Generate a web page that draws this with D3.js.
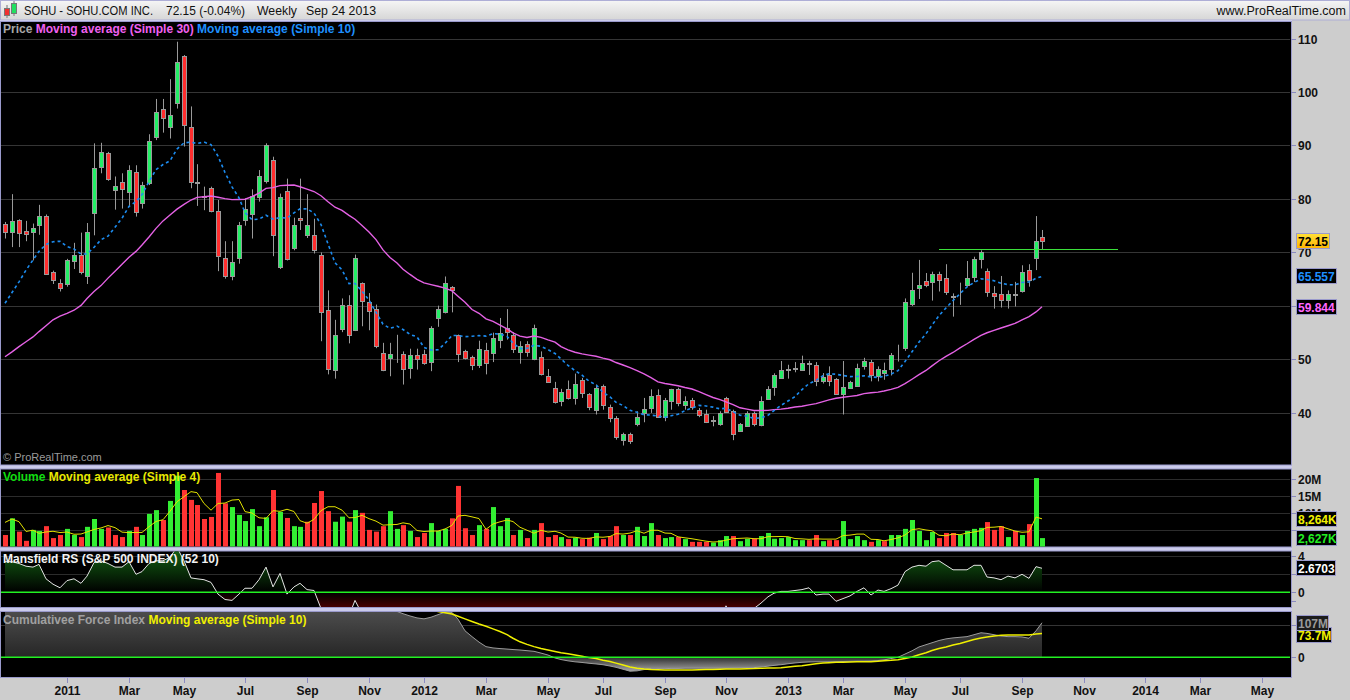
<!DOCTYPE html>
<html><head><meta charset="utf-8">
<script src="https://cdn.jsdelivr.net/npm/d3@7"></script>
<style>
body{margin:0;background:#cdcdcd;overflow:hidden}
svg{display:block}
text{font-family:"Liberation Sans",Arial,sans-serif}
</style>
</head><body><svg id="c" width="1350" height="700"></svg>
<script>
// ---------------- DATA ----------------
const firstBar = Date.UTC(2010,10,1), lastBarEnd = Date.UTC(2013,8,24);
const opens = [75.4,73.85,76.0,74.0,73.85,75.2,76.9,66.4,64.3,64.05, 68.4,69.45,65.6,77.3,85.9,88.5,81.7,83.1,81.35,85.0, 79.2,83.0,91.6,96.9,93.5,97.9,106.7,93.5,83.1,80.5, 82.0,77.8,69.0,65.6,69.0,76.0,77.1,80.3,83.4,87.3, 67.3,81.5,70.8,76.35,73.2,73.2,69.5,59.25,48.0,55.6, 60.1,55.5,64.3,60.7,59.4,51.2,50.3,52.5,51.0,48.4, 50.9,51.1,49.5,57.75,58.9,63.55,54.6,51.6,50.45,49.0, 51.85,51.2,53.6,55.8,54.6,51.4,52.8,50.1,50.45,46.85, 44.7,42.2,44.55,42.8,46.2,43.55,40.6,45.0,41.1,39.05, 35.0,36.1,37.95,40.0,40.9,43.4,39.2,42.2,44.5,41.4, 42.5,40.45,39.8,38.75,37.95,42.7,40.3,36.6,37.6,40.0, 37.7,42.6,44.8,46.5,48.0,48.4,48.0,49.35,48.95,45.9, 47.15,46.3,43.55,44.6,45.0,48.7,49.5,46.85,47.4,48.3, 52.4,52.05,60.45,63.3,64.6,64.5,65.9,65.15,61.8,64.0, 64.0,65.5,68.8,66.5,62.35,62.2,61.2,62.2,62.85,66.8, 69.0,72.8];
const highs = [75.7,80.9,76.2,75.9,75.4,78.9,77.1,66.6,65.0,68.8, 71.8,73.7,75.5,90.4,90.5,88.8,84.2,84.8,86.3,86.3, 83.2,92.1,98.7,98.7,102.4,109.4,106.9,97.3,86.5,82.3, 82.3,79.8,72.1,72.1,75.7,80.1,81.8,85.4,90.4,87.9, 81.0,83.8,76.5,83.8,80.9,76.3,70.0,62.9,57.4,61.4, 62.0,69.6,64.4,62.4,60.25,53.1,53.1,54.6,51.5,52.0, 52.0,51.8,56.2,60.05,65.5,63.7,54.65,51.8,50.7,53.5, 53.1,55.0,57.75,59.4,55.1,53.4,53.4,56.5,51.5,48.2, 45.8,44.5,46.05,47.35,46.55,43.7,45.3,45.3,41.55,39.4, 36.3,36.3,40.3,42.8,44.4,44.4,42.8,44.5,44.7,43.1, 42.8,40.9,40.6,39.4,40.3,43.0,40.6,38.1,40.3,40.25, 43.1,45.0,47.4,49.7,49.0,49.5,50.7,49.75,49.5,47.45, 48.7,46.5,49.7,46.0,49.2,50.3,49.9,48.7,49.4,51.2, 52.75,61.4,66.2,68.6,66.15,66.4,66.4,67.8,62.35,64.35, 68.4,69.2,70.4,67.0,63.7,65.6,62.9,64.5,67.6,67.8, 76.8,74.2];
const lows = [72.6,71.0,71.0,72.1,68.5,73.3,65.8,64.1,62.7,63.6, 66.9,65.9,64.1,73.2,84.8,83.4,78.0,78.2,78.5,76.7, 78.2,82.6,91.0,92.4,91.3,96.9,89.8,82.0,78.7,77.9, 77.5,66.5,65.1,64.8,67.9,75.0,72.6,79.5,82.9,69.3, 66.9,68.5,70.4,74.2,72.7,69.8,53.4,47.2,46.4,55.1, 53.0,55.3,56.2,55.45,52.1,47.8,46.85,49.35,45.3,46.4, 48.1,49.0,47.8,56.1,58.6,58.8,49.5,50.0,48.0,48.4, 47.2,49.5,52.1,53.7,51.2,49.2,50.5,49.85,47.0,45.6, 41.75,41.25,42.5,41.55,42.8,40.5,39.7,40.6,38.25,35.0, 33.9,34.2,37.5,38.25,40.0,39.05,38.45,40.6,41.25,40.6, 40.6,39.2,38.1,37.5,37.6,40.0,34.9,36.45,37.4,37.5, 37.5,42.5,43.2,46.4,46.4,47.6,48.0,47.1,45.0,45.5, 45.0,43.4,39.7,44.5,44.85,48.1,45.9,45.9,46.2,47.0, 49.6,51.6,60.0,61.3,63.5,61.0,62.7,62.05,58.0,60.2, 63.6,64.5,67.0,61.7,59.5,59.7,59.5,59.9,62.5,63.6, 66.7,70.6];
const closes = [73.85,75.8,73.7,73.5,74.5,76.8,65.9,64.9,63.3,68.6, 69.6,66.3,73.8,85.8,88.7,83.65,82.4,81.8,85.4,77.6, 82.6,90.8,96.2,95.2,95.7,105.6,93.9,83.2,82.9,80.3, 77.8,69.3,65.6,68.3,75.2,78.1,80.6,84.2,90.1,73.2, 80.3,68.8,75.1,76.0,75.1,70.4,58.9,48.2,54.6,60.1, 54.6,69.0,60.9,59.0,52.5,48.1,51.0,52.5,48.2,50.9, 50.1,49.35,55.9,59.4,64.3,63.05,51.0,50.3,49.0,52.0, 49.35,54.0,55.0,55.1,52.0,52.5,51.4,55.9,47.3,45.8, 42.05,43.9,42.8,45.4,43.7,41.1,44.7,41.55,39.05,35.5, 36.1,34.8,39.25,40.75,43.1,39.25,42.4,44.4,41.9,42.3, 41.05,39.6,38.3,38.45,40.0,40.1,36.1,37.95,40.0,37.95, 42.3,44.5,47.1,48.0,48.2,48.3,49.3,49.2,45.9,46.8, 45.9,43.6,44.85,45.8,48.4,49.75,47.0,48.2,48.1,50.9, 52.4,60.7,63.0,63.9,64.0,65.9,64.8,62.55,61.7,64.0, 65.15,68.7,70.0,62.55,61.9,61.05,62.2,62.1,66.3,64.8, 72.1,72.15];
// moving average values before enough history
const sma30Early = [50.5,51.4,52.4,53.3,54.2,55.2,56.3,57.4,58.1,58.6,59.2,60.1,61.4,62.7,63.8,65.2,66.5,67.8,69.1,70.2,71.4,72.9,74.5,75.9,77.0,78.1,79.0,79.8,80.3];
const sma10Early = [60.5,62.5,64.5,66.7,68.6,70.2,71.5,72.0,72.1];
const resistance = 70.56;
// volume in millions
const volumes = [3.6,8.5,4.6,1.9,5.1,4.8,6.2,2.7,3.6,5.4, 3.6,3.0,6.0,8.3,5.4,5.8,3.6,3.0,4.8,6.0, 3.6,9.8,10.9,8.0,13.6,21.0,16.8,13.9,12.4,8.3, 8.9,21.8,12.9,11.8,9.5,7.7,11.2,6.2,8.8,16.8, 10.4,8.6,6.2,6.0,7.5,13.0,16.5,10.6,7.5,9.0, 7.5,10.9,10.1,5.1,4.6,6.2,10.6,5.4,6.5,4.8, 3.0,4.2,7.1,4.8,5.4,8.5,18.0,5.6,3.6,6.5, 5.4,11.8,6.2,8.6,3.6,5.1,2.7,5.1,7.1,3.0, 3.6,3.0,2.4,2.8,2.4,2.8,4.2,2.4,3.3,6.2, 3.6,3.6,6.0,3.3,7.1,3.6,2.7,3.0,3.0,2.4, 1.6,1.6,1.6,1.4,2.1,3.3,3.3,1.8,2.5,2.5, 3.3,4.2,2.5,2.7,3.0,2.1,2.1,2.1,3.6,1.8, 2.1,2.1,7.7,2.4,3.3,2.1,1.6,2.1,1.8,3.6, 3.6,5.4,8.0,4.8,2.1,4.5,2.7,4.2,4.2,3.6, 4.8,5.4,5.7,7.4,5.1,6.2,3.0,4.8,3.6,6.8, 20.3,2.7];
const volMaEarly = [7.3,8.3,7.5];
const mansfield = [3.4,3.4,3.2,2.9,2.8,3.1,1.5,0.9,0.5,1.3, 1.5,1.0,1.8,3.3,3.5,3.2,2.8,2.8,3.4,2.0, 2.3,3.2,3.5,3.5,3.9,5.0,3.5,1.6,1.5,1.4, 1.1,-0.2,-0.8,-0.9,-0.2,0.45,0.45,1.4,2.8,0.6, 2.1,-0.2,0.6,1.0,0.3,0.2,-1.8,-2.6,-2.8,-2.7, -2.6,-0.9,-2.4,-2.6,-2.8,-3.0,-2.9,-2.8,-3.0,-2.9, -2.8,-2.7,-2.5,-2.3,-1.7,-2.2,-2.8,-2.9,-3.0,-3.0, -2.9,-2.8,-2.9,-3.0,-3.0,-2.9,-3.0,-3.1,-3.1,-3.2, -3.3,-3.2,-3.3,-3.2,-3.3,-3.4,-3.3,-3.4,-3.5,-3.6, -3.5,-3.5,-3.3,-3.2,-3.0,-3.1,-3.0,-2.9,-3.0,-3.0, -3.1,-3.1,-3.2,-3.2,-3.0,-1.5,-2.8,-2.6,-2.2,-1.8, -1.2,-0.5,-0.1,0.1,0.1,0.2,0.3,0.5,-0.3,-0.2, -0.2,-1.0,-0.7,-0.4,0.1,0.5,-0.3,0.25,0.1,0.4, 0.8,2.3,2.8,3.0,2.9,3.4,3.5,3.0,2.5,2.5, 2.5,3.0,3.0,1.7,1.6,1.4,1.8,1.6,2.0,1.55, 2.85,2.67];
// cumulative force index, millions
const cfi = [175,178,176,174,176,180,170,166,162,168, 170,166,172,182,188,184,182,181,185,178, 182,190,196,194,196,205,194,186,184,182, 178,168,163,166,172,176,179,183,188,172, 180,168,172,175,173,168,160,150,156,160, 155,166,160,158,152,147,149,142,135,128, 122,119,124,132,140,139,118,82,64,47, 33,29,27,25.5,24,22.6,20.5,18.5,13,7, -2,-7,-11,-14,-16,-18.5,-20.5,-23,-27,-31, -37,-43,-42,-38,-36,-35,-35,-34.5,-34.5,-34, -34,-34,-34,-34,-34,-34,-33.5,-33,-33,-32, -30,-27.5,-25,-23,-20,-17.5,-15.5,-14.5,-14,-14, -13.8,-13.6,-13,-12.5,-12,-11.8,-11.5,-10,-8,-4, 0,10,20,32,39,45,52,57,60,62, 64,70,76,74,70,66,64,64,63,59, 82,107];
const cfiMa = [176,176,177,177,177,178,177,176,175,175, 174,174,174,175,176,177,178,179,180,181, 181,182,183,184,185,186,187,187,187,187, 186,186,185,184,183,182,181,180,179,178, 178,177,177,176,175,174,172,170,168,166, 164,162,161,160,159,158,157,156,155,153, 151,150,146,142,138,134,127,119,111,103, 96,88,80,70,59,48,40,33,27,22.6, 18,14,11,7,3,-1,-4,-9,-13,-18, -24,-30,-34,-36.5,-38,-38.5,-39,-39,-39,-39, -39,-38.5,-38,-37.5,-37,-36.5,-36,-36,-35.5,-35, -34,-33.5,-33,-32,-30,-28,-26,-23,-20,-18, -16.5,-15.5,-15,-14.5,-14,-14,-13.6,-12.5,-11,-9.5, -7.5,-4,1,8,14,21,27,32,38,43, 49,55,60,63,66,68,69,69,69,69, 72,73.7];
// last-value readouts shown on the right axis
const readoutLabels = ["72.15","65.557","59.844","8,264K","2,627K","2.6703","73.7M","107M"];
const readoutValues = [72.15,65.557,59.844,8.264,2.627,2.6703,73.7,107];
const priceTicks = [40,50,60,70,80,90,100,110];
const priceTickLabels = ["40","50","","70","80","90","100","110"];
const volTicks = [5,10,15,20];
const volTickLabels = ["","10M","15M","20M"];
const msTicks = [-1,0,2,4];
const msTickLabels = ["","0","","4"];
const cfiTicks = [0,100];
const cfiTickLabels = ["0",""];

// ---------------- SETUP ----------------
const dates = d3.utcMonday.range(new Date(firstBar), new Date(lastBarEnd));
const n = dates.length;
const svg = d3.select("#c");
const defs = svg.append("defs");
const RIGHT = 1291;
const P = {price:[21,465.5], vol:[468.5,547.5], ms:[550.5,608], cfi:[611,678]};

const x = d3.scaleUtc().domain([Date.UTC(2011,0,1), Date.UTC(2014,4,1)]).range([64.9,1258.3]);
const yP = d3.scaleLinear().domain([40,110]).range([412.9,38.5]);
const yV = d3.scaleLinear().domain([0,20]).range([547.3,479.1]);
const yM = d3.scaleLinear().domain([0,4]).range([592.3,556.3]);
const yC = d3.scaleLinear().domain([0,100]).range([657.3,625]);
const X = i => Math.round(x(dates[i]));

function sma(arr, k, early){
  return arr.map((v,i)=> i < k-1 ? early[i] : d3.mean(arr.slice(i-k+1,i+1)));
}
const sma30 = sma(closes,30,sma30Early);
const sma10 = sma(closes,10,sma10Early);
const volMa = sma(volumes,4,volMaEarly);

function grad(id, stops, y1, y2){
  const g = defs.append("linearGradient").attr("id",id).attr("gradientUnits","userSpaceOnUse")
    .attr("x1",0).attr("x2",0).attr("y1",y1).attr("y2",y2);
  stops.forEach(s=>g.append("stop").attr("offset",s[0]).attr("stop-color",s[1]));
}
function clip(id, y0, y1){
  defs.append("clipPath").attr("id",id).append("rect").attr("x",1).attr("y",y0+1).attr("width",RIGHT-2).attr("height",y1-y0-2);
}
grad("tg",[[0,"#f6f6f6"],[1,"#d6d6d6"]],0,20);
grad("yb",[[0,"#ffe23a"],[1,"#ffb300"]],233,249);
grad("msg",[[0,"#125e12"],[(592.3-551)/(608-551),"#000000"],[1,"#4a0000"]],551,608);
grad("cfg",[[0,"#4c4c4c"],[(657.3-612)/(678-612),"#262626"],[(657.3-612)/(678-612)+0.001,"#2e2e2e"],[1,"#e0e0e0"]],612,678);
Object.entries(P).forEach(([k,v])=>clip("cl_"+k,v[0],v[1]));

// backgrounds
svg.append("rect").attr("width",1350).attr("height",700).attr("fill","#cdcdcd");
svg.append("rect").attr("x",0).attr("y",0).attr("width",1350).attr("height",20).attr("fill","url(#tg)");
svg.append("rect").attr("x",0.5).attr("y",0.5).attr("width",1349).attr("height",19.5).attr("fill","none").attr("stroke","#aeaed6");
svg.append("rect").attr("x",0).attr("y",20).attr("width",RIGHT+1).attr("height",658).attr("fill","#cbcbeb");
Object.values(P).forEach(v=>{
  svg.append("rect").attr("x",0.5).attr("y",v[0]+0.5).attr("width",RIGHT).attr("height",v[1]-v[0]-1)
    .attr("fill","#000").attr("stroke","#9a9acc");
});

// title bar
const ic = svg.append("g");
ic.append("line").attr("x1",7).attr("x2",7).attr("y1",5).attr("y2",18).attr("stroke","#777");
ic.append("rect").attr("x",4.5).attr("y",8.5).attr("width",5).attr("height",7).attr("fill","#f03030").attr("stroke","#777");
ic.append("line").attr("x1",14).attr("x2",14).attr("y1",1).attr("y2",16).attr("stroke","#777");
ic.append("rect").attr("x",11.5).attr("y",3.5).attr("width",5).attr("height",10).attr("fill","#22e060").attr("stroke","#777");
const tt = [["SOHU - SOHU.COM INC.",24,129],["72.15 (-0.04%)",166,79],["Weekly",257,40],["Sep 24 2013",306,70]];
tt.forEach(t=>svg.append("text").attr("x",t[1]).attr("y",15).attr("font-size","12.5px").attr("fill","#111")
  .attr("textLength",t[2]).attr("lengthAdjust","spacingAndGlyphs").text(t[0]));
svg.append("text").attr("x",1346).attr("y",15).attr("text-anchor","end").attr("font-size","12.5px").attr("fill","#111").text("www.ProRealTime.com");

// ---------------- PRICE PANEL ----------------
const gp = svg.append("g").attr("clip-path","url(#cl_price)");
gp.selectAll("line.grid").data(priceTicks).join("line").attr("x1",0).attr("x2",RIGHT)
  .attr("y1",d=>Math.round(yP(d))+0.5).attr("y2",d=>Math.round(yP(d))+0.5).attr("stroke","#353535");
const cg = gp.append("g");
d3.range(n).forEach(i=>{
  const xi = X(i)+0.5;
  cg.append("line").attr("x1",xi).attr("x2",xi).attr("y1",yP(highs[i])).attr("y2",yP(lows[i])).attr("stroke","#9a9a9a");
  const o=opens[i], c=closes[i];
  const top = Math.round(yP(Math.max(o,c))), bot = Math.round(yP(Math.min(o,c)));
  const fill = c>o ? "#24ee66" : (c<o ? "#ff2e2e" : "#9a9a9a");
  cg.append("rect").attr("x",xi-2).attr("y",top+0.5).attr("width",4).attr("height",Math.max(0,bot-top))
    .attr("fill",fill).attr("stroke","#9a9a9a");
});
gp.append("path").datum(sma30).attr("fill","none").attr("stroke","#e461e4").attr("stroke-width",1.4)
  .attr("d",d3.line().x((d,i)=>X(i)).y(d=>yP(d)));
gp.append("path").datum(sma10).attr("fill","none").attr("stroke","#1c8cf0").attr("stroke-width",1.6).attr("stroke-dasharray","3,3")
  .attr("d",d3.line().x((d,i)=>X(i)).y(d=>yP(d)));
gp.append("line").attr("x1",939).attr("x2",1118).attr("y1",Math.round(yP(resistance))+0.5).attr("y2",Math.round(yP(resistance))+0.5)
  .attr("stroke","#3be03b");

function header(y, parts){
  const t = svg.append("text").attr("x",3).attr("y",y).attr("font-size","12px").attr("font-weight","bold");
  parts.forEach(p=>t.append("tspan").attr("fill",p[1]).text(p[0]));
}
header(33,[["Price ","#a8a8a8"],["Moving average (Simple 30) ","#f060f0"],["Moving average (Simple 10)","#1e90ff"]]);
svg.append("text").attr("x",3).attr("y",461).attr("font-size","11px").attr("fill","#9a9a9a").text("© ProRealTime.com");

// ---------------- VOLUME PANEL ----------------
const gv = svg.append("g").attr("clip-path","url(#cl_vol)");
gv.selectAll("line").data(volTicks).join("line").attr("x1",0).attr("x2",RIGHT)
  .attr("y1",d=>Math.round(yV(d))+0.5).attr("y2",d=>Math.round(yV(d))+0.5).attr("stroke","#2c2c2c");
d3.range(n).forEach(i=>{
  const up = i===0 ? closes[i]>=opens[i] : closes[i]>=closes[i-1];
  gv.append("rect").attr("x",X(i)-2).attr("y",yV(volumes[i])).attr("width",5).attr("height",yV(0)-yV(volumes[i]))
    .attr("fill",up?"#33ee33":"#ff3333");
});
gv.append("path").datum(volMa).attr("fill","none").attr("stroke","#e2e200").attr("stroke-width",1)
  .attr("d",d3.line().x((d,i)=>X(i)).y(d=>yV(d)));
header(481,[["Volume ","#11dd11"],["Moving average (Simple 4)","#e8e800"]]);

// ---------------- MANSFIELD PANEL ----------------
const gm = svg.append("g").attr("clip-path","url(#cl_ms)");
gm.selectAll("line").data([2,4]).join("line").attr("x1",0).attr("x2",RIGHT)
  .attr("y1",d=>Math.round(yM(d))+0.5).attr("y2",d=>Math.round(yM(d))+0.5).attr("stroke","#2c2c2c");
gm.append("path").datum(mansfield).attr("fill","url(#msg)")
  .attr("d",d3.area().x((d,i)=>X(i)).y0(yM(0)).y1(d=>yM(d)));
gm.append("path").datum(mansfield).attr("fill","none").attr("stroke","#e4e4e4").attr("stroke-width",1)
  .attr("d",d3.line().x((d,i)=>X(i)).y(d=>yM(d)));
gm.append("line").attr("x1",0).attr("x2",RIGHT).attr("y1",yM(0)).attr("y2",yM(0)).attr("stroke","#22f022").attr("stroke-width",1.5);
header(563,[["Mansfield RS (S&P 500 INDEX) (52 10)","#f2f2f2"]]);

// ---------------- CFI PANEL ----------------
const gc = svg.append("g").attr("clip-path","url(#cl_cfi)");
gc.append("line").attr("x1",0).attr("x2",RIGHT).attr("y1",Math.round(yC(100))+0.5).attr("y2",Math.round(yC(100))+0.5).attr("stroke","#353535");
gc.append("path").datum(cfi).attr("fill","url(#cfg)")
  .attr("d",d3.area().x((d,i)=>X(i)).y0(yC(0)).y1(d=>yC(d)));
gc.append("path").datum(cfi).attr("fill","none").attr("stroke","#9c9c9c").attr("stroke-width",1)
  .attr("d",d3.line().x((d,i)=>X(i)).y(d=>yC(d)));
gc.append("path").datum(cfiMa).attr("fill","none").attr("stroke","#f0f000").attr("stroke-width",1.5)
  .attr("d",d3.line().x((d,i)=>X(i)).y(d=>yC(d)));
gc.append("line").attr("x1",0).attr("x2",RIGHT).attr("y1",yC(0)).attr("y2",yC(0)).attr("stroke","#22f022").attr("stroke-width",1.5);
header(624,[["Cumulativee Force Index ","#a0a0a0"],["Moving average (Simple 10)","#f0f000"]]);

// ---------------- RIGHT AXES ----------------
function rAxis(scale, ticks, labels, panel, labelClipBottom){
  const y0 = P[panel][0], y1 = labelClipBottom || P[panel][1];
  defs.append("clipPath").attr("id","ax_"+panel).append("rect").attr("x",RIGHT).attr("y",y0).attr("width",60).attr("height",y1-y0);
  const g = svg.append("g");
  const gl = svg.append("g").attr("clip-path","url(#ax_"+panel+")");
  ticks.forEach((t,k)=>{
    const y = Math.round(scale(t))+0.5;
    g.append("line").attr("x1",RIGHT).attr("x2",RIGHT+5).attr("y1",y).attr("y2",y).attr("stroke","#8a8ac0");
    if(labels[k]!=="") gl.append("text").attr("x",RIGHT+7).attr("y",y+4.5).attr("font-size","12px").attr("font-weight","bold").attr("fill","#111").text(labels[k]);
  });
}
rAxis(yP, priceTicks, priceTickLabels, "price");
rAxis(yV, volTicks, volTickLabels, "vol", Math.round(yV(readoutValues[3])-8)+0.5);
rAxis(yM, msTicks, msTickLabels, "ms");
rAxis(yC, cfiTicks, cfiTickLabels, "cfi");

function box(yc, w, label, fill, color){
  svg.append("rect").attr("x",1296.5).attr("y",Math.round(yc-8)+0.5).attr("width",w).attr("height",15)
    .attr("fill",fill).attr("stroke","#9a9acc");
  svg.append("text").attr("x",1298).attr("y",Math.round(yc-8)+12.5).attr("font-size","12px").attr("font-weight","bold").attr("fill",color).text(label);
}
box(yP(readoutValues[0]),33,readoutLabels[0],"url(#yb)","#000");
box(yP(readoutValues[1]),40,readoutLabels[1],"#000","#1e90ff");
box(yP(readoutValues[2]),40,readoutLabels[2],"#000","#ff66ff");
box(yV(readoutValues[3]),40,readoutLabels[3],"#000","#f0f000");
box(yV(readoutValues[4]),40,readoutLabels[4],"#000","#22ee22");
box(yM(readoutValues[5]),39,readoutLabels[5],"#000","#ffffff");
box(yC(readoutValues[6])+2,35,readoutLabels[6],"#000","#f0f000");
box(yC(readoutValues[7]),32,readoutLabels[7],"#1c1c1c","#9a9a9a");

// ---------------- X AXIS ----------------
const tickMonths = d3.utcMonth.every(2).range(new Date(Date.UTC(2011,0,1)), new Date(Date.UTC(2014,5,1)));
const fmtM = d3.utcFormat("%b"), fmtY = d3.utcFormat("%Y");
tickMonths.forEach(m=>{
  const xt = Math.round(x(d3.utcMonday.ceil(m)))+0.5;
  svg.append("line").attr("x1",xt).attr("x2",xt).attr("y1",678).attr("y2",683).attr("stroke","#8a8ac0");
  svg.append("text").attr("x",xt).attr("y",695).attr("text-anchor","middle").attr("font-size","12px").attr("font-weight","bold")
    .attr("fill","#111").text(m.getUTCMonth()===0 ? fmtY(m) : fmtM(m));
});
</script></body></html>
